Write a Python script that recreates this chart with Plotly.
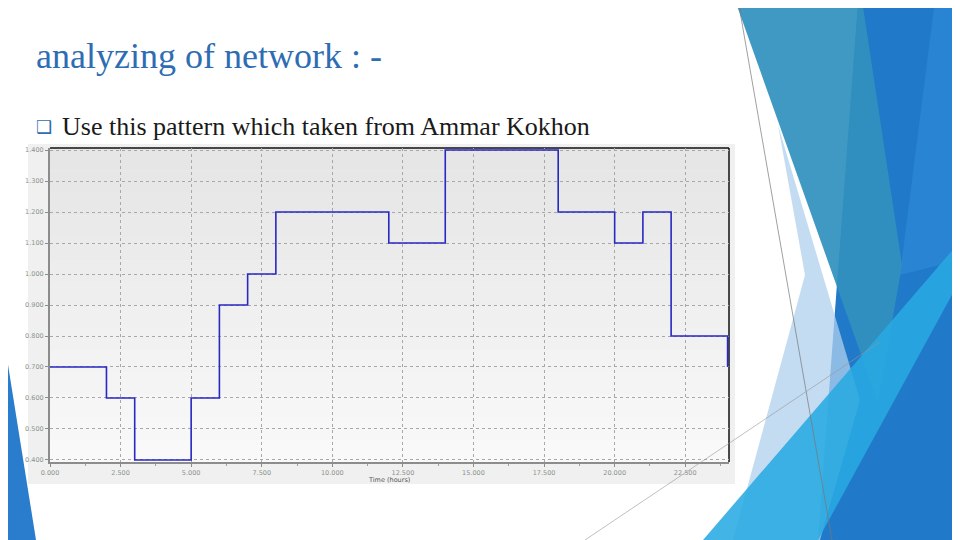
import plotly.graph_objects as go

# Step load pattern over one day (hour where each level starts, level value)
hours = [0, 2, 3, 5, 6, 7, 8, 12, 14, 18, 20, 21, 22, 24]
levels = [0.7, 0.6, 0.4, 0.6, 0.9, 1.0, 1.2, 1.1, 1.4, 1.2, 1.1, 1.2, 0.8, 0.7]

x_ticks = [0, 2.5, 5, 7.5, 10, 12.5, 15, 17.5, 20, 22.5]
y_ticks = [0.4, 0.5, 0.6, 0.7, 0.8, 0.9, 1.0, 1.1, 1.2, 1.3, 1.4]

TITLE = "analyzing of network : -"
BULLET = "Use this pattern which taken from Ammar Kokhon"

# page body has an 8px margin, so the figure is drawn 8px in from the corner
OFF = 8
W, H = 960 - OFF, 540 - OFF
# plot area in window pixels
L, R, T, B = 50, 729, 148, 462


def px(x):
    return (x - L) / (R - L)


def py(y):
    return (B - y) / (B - T)


def poly(points):
    return "M " + " L ".join(f"{px(x):.4f},{py(y):.4f}" for x, y in points) + " Z"


fig = go.Figure()

fig.add_trace(go.Scatter(
    x=hours,
    y=levels,
    mode='lines',
    line=dict(color='#2828c2', width=1.6, shape='hv'),
    hoverinfo='skip',
    showlegend=False,
))

shapes = []

# embedded picture background
shapes.append(dict(type='rect', xref='paper', yref='paper',
                   x0=px(28), x1=px(735), y0=py(484), y1=py(144),
                   fillcolor='#f0f0f0', line_width=0, layer='below'))

# plot area gradient
n = 14
for i in range(n):
    g = int(0xe6 + (0xf9 - 0xe6) * i / (n - 1))
    shapes.append(dict(type='rect', xref='x domain', yref='y domain',
                       x0=0, x1=1, y0=1 - (i + 1) / n, y1=1 - i / n,
                       fillcolor=f'rgb({g},{g},{g})', line_width=0, layer='below'))

# black frame top/right (under the data line)
shapes.append(dict(type='line', xref='x domain', yref='y domain', layer='below',
                   x0=0, x1=1, y0=1, y1=1, line=dict(color='#111111', width=1.5)))
shapes.append(dict(type='line', xref='x domain', yref='y domain', layer='below',
                   x0=1, x1=1, y0=0, y1=1, line=dict(color='#111111', width=1.5)))

# slide decoration
deco = [
    ([(858, 0), (960, 0), (960, 540), (818, 540)], '#2179c9'),
    ([(935, 0), (960, 0), (960, 260), (900, 275)], '#2a84d4'),
    ([(778, 125), (860, 400), (820, 540), (733, 540), (805, 275)], 'rgba(175,208,238,0.75)'),
    ([(735, 0), (862, 0), (902, 265), (878, 402)], 'rgba(50,145,190,0.93)'),
    ([(703, 540), (1018, 174), (818, 540)], 'rgba(40,170,225,0.88)'),
    ([(0, 315), (36, 540), (0, 540)], '#2a7ccc'),
]
for pts, col in deco:
    shapes.append(dict(type='path', xref='paper', yref='paper', path=poly(pts),
                       fillcolor=col, line_width=0, layer='above'))

shapes.append(dict(type='line', xref='paper', yref='paper',
                   x0=px(738), y0=py(0), x1=px(832), y1=py(540),
                   line=dict(color='rgba(120,120,120,0.7)', width=1)))
shapes.append(dict(type='line', xref='paper', yref='paper',
                   x0=px(585), y0=py(540), x1=px(880), y1=py(342),
                   line=dict(color='rgba(150,150,150,0.6)', width=1)))

serif = 'Liberation Serif, Times New Roman, serif'
annotations = [
    dict(text=TITLE, xref='paper', yref='paper', x=px(34), y=py(56),
         xanchor='left', yanchor='middle', showarrow=False,
         font=dict(family=serif, size=36, color='#2e6db3')),
    dict(text='❑', xref='paper', yref='paper', x=px(34), y=py(126),
         xanchor='left', yanchor='middle', showarrow=False,
         font=dict(family='DejaVu Sans', size=18, color='#2e6db3')),
    dict(text=BULLET, xref='paper', yref='paper', x=px(60), y=py(126),
         xanchor='left', yanchor='middle', showarrow=False,
         font=dict(family=serif, size=26, color='#1a1a1a')),
    dict(text='Time (hours)', xref='paper', yref='paper', x=px(389), y=py(480),
         xanchor='center', yanchor='middle', showarrow=False,
         font=dict(family='DejaVu Sans', size=6.5, color='#555555')),
]

grid = dict(showgrid=True, gridcolor='#a8a8a8', gridwidth=0.8, griddash='dot',
            zeroline=False, showline=True, linecolor='#8c8c8c', linewidth=2,
            ticks='outside', ticklen=3, tickcolor='#8c8c8c',
            tickfont=dict(family='DejaVu Sans', size=6.5, color='#8a928a'))

fig.update_layout(
    width=W, height=H,
    margin=dict(l=L - OFF, r=960 - R, t=T - OFF, b=540 - B, pad=0),
    paper_bgcolor='white',
    plot_bgcolor='rgba(0,0,0,0)',
    xaxis=dict(range=[0, 24.05], tickvals=x_ticks, tickformat='.3f',
               minor=dict(ticks='outside', ticklen=2, tickcolor='#a0a0a0', dtick=1.25),
               **grid),
    yaxis=dict(range=[0.3935, 1.4065], tickvals=y_ticks, tickformat='.3f', **grid),
    shapes=shapes,
    annotations=annotations,
    showlegend=False,
)

fig.write_html("out.html")
